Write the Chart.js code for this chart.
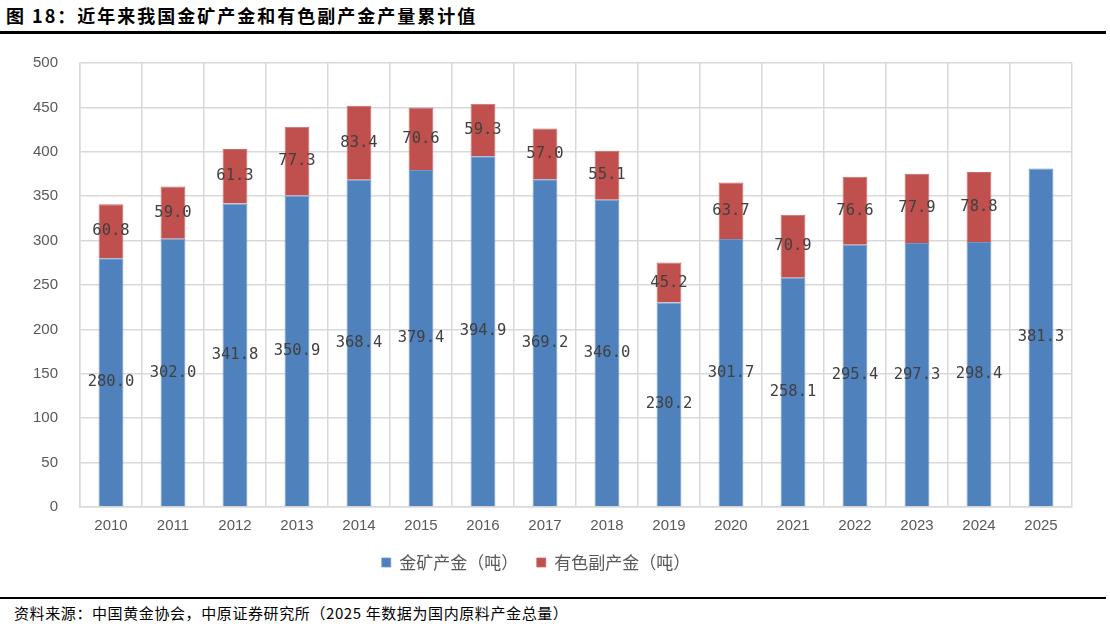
<!DOCTYPE html>
<html><head><meta charset="utf-8">
<script src="https://cdn.jsdelivr.net/npm/chart.js@4.4.1/dist/chart.umd.min.js"></script>
<style>
html,body{margin:0;padding:0;background:#fff;width:1110px;height:629px;overflow:hidden;position:relative;font-family:"Noto Sans CJK SC",sans-serif;}
#title{position:absolute;left:6px;top:2px;font-size:18px;font-weight:bold;color:#000;letter-spacing:2px;}
#topline{position:absolute;left:0;top:31px;width:1106px;height:3px;background:#000;}
#botline{position:absolute;left:0;top:597px;width:1106px;height:2px;background:#000;}
#foot{position:absolute;left:14px;top:602px;font-size:15px;color:#000;letter-spacing:0.6px;}
#wrap{position:absolute;left:0;top:32px;width:1110px;height:597px;}
</style></head><body>
<div id="title">图 18：近年来我国金矿产金和有色副产金产量累计值</div>
<div id="topline"></div>
<div id="botline"></div>
<div id="foot">资料来源：中国黄金协会，中原证券研究所（2025 年数据为国内原料产金总量）</div>
<div id="wrap"><canvas id="c"></canvas></div>
<script>
const years = ["2010","2011","2012","2013","2014","2015","2016","2017","2018","2019","2020","2021","2022","2023","2024","2025"];
const mineGold = [280.0,302.0,341.8,350.9,368.4,379.4,394.9,369.2,346.0,230.2,301.7,258.1,295.4,297.3,298.4,381.3];
const byproductGold = [60.8,59.0,61.3,77.3,83.4,70.6,59.3,57.0,55.1,45.2,63.7,70.9,76.6,77.9,78.8,null];
const seriesNames = ["金矿产金（吨）\u3000","有色副产金（吨）"];
const yTicks = [0,50,100,150,200,250,300,350,400,450,500];

const labelPlugin = {
  id:'segLabels',
  afterDatasetsDraw(chart){
    const ctx = chart.ctx;
    ctx.save();
    ctx.font = '15.5px "DejaVu Sans Mono", monospace';
    ctx.fillStyle = '#404040';
    ctx.textAlign = 'center';
    ctx.textBaseline = 'middle';
    chart.data.datasets.forEach((ds,di)=>{
      const meta = chart.getDatasetMeta(di);
      meta.data.forEach((el,i)=>{
        const v = ds.data[i];
        if(v===null||v===undefined) return;
        const p = el.getProps(['x','y','base'],true);
        ctx.fillText(v.toFixed(1), p.x, (p.y+p.base)/2);
      });
    });
    ctx.restore();
  }
};

new Chart(document.getElementById('c'),{
  type:'bar',
  data:{labels:years,datasets:[
    {label:seriesNames[0],data:mineGold,backgroundColor:'#4F81BD',borderColor:'#6f97c9',borderWidth:{top:1,left:1,right:1,bottom:0},barPercentage:0.4,categoryPercentage:1},
    {label:seriesNames[1],data:byproductGold,backgroundColor:'#C0504D',borderColor:'#c86b68',borderWidth:{top:1,left:1,right:1,bottom:0},barPercentage:0.4,categoryPercentage:1}
  ]},
  options:{
    responsive:true,maintainAspectRatio:false,animation:false,
    layout:{padding:{left:0,right:38,top:4,bottom:48}},
    plugins:{
      tooltip:{enabled:false},
      legend:{position:'bottom',labels:{boxWidth:9,boxHeight:9,padding:10,color:'#595959',font:{family:'"Noto Sans CJK SC"',size:17}}}
    },
    scales:{
      x:{stacked:true,
        grid:{offset:true,color:'#d9d9d9',lineWidth:1.5,drawTicks:false},
        border:{color:'#d9d9d9',width:1.5},
        ticks:{color:'#595959',padding:10,font:{family:'Arial, "Liberation Sans"',size:15}},
        afterFit(s){s.height=37;}
      },
      y:{stacked:true,min:0,max:500,
        afterBuildTicks(s){s.ticks=yTicks.map(v=>({value:v}));},
        grid:{color:'#d9d9d9',lineWidth:1.5,drawTicks:false},
        border:{color:'#d9d9d9',width:1.5},
        ticks:{color:'#595959',padding:22,font:{family:'Arial, "Liberation Sans"',size:15}},
        afterFit(s){s.width=80;}
      }
    }
  },
  plugins:[labelPlugin]
});
</script>
</body></html>
